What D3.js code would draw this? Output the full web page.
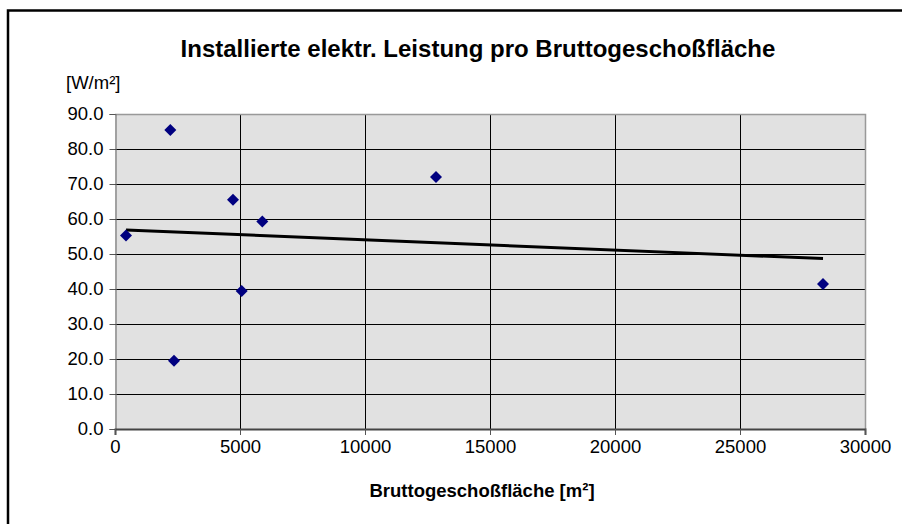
<!DOCTYPE html>
<html>
<head>
<meta charset="utf-8">
<script src="https://cdn.jsdelivr.net/npm/d3@7"></script>
<style>
  body { margin: 0; background: #fff; }
  svg { display: block; font-family: "Liberation Sans", Arial, sans-serif; }
</style>
</head>
<body>
<div id="chart"></div>
<script>
// Data
const flaeche = [440, 2213, 2360, 4720, 5067, 5893, 12840, 28320];      // m²
const leistung = [55.3, 85.4, 19.5, 65.5, 39.4, 59.3, 72.0, 41.4];     // W/m²
const xTicks = [0, 5000, 10000, 15000, 20000, 25000, 30000];
const yTicks = [0, 10, 20, 30, 40, 50, 60, 70, 80, 90];

const width = 902, height = 524;
const plot = { left: 115, right: 865, top: 114, bottom: 429 };

const svg = d3.select("#chart").append("svg")
    .attr("width", width)
    .attr("height", height);

// outer frame (runs off the right and bottom edge)
svg.append("rect")
    .attr("x", 8).attr("y", 10.5)
    .attr("width", 1000).attr("height", 1000)
    .attr("fill", "none")
    .attr("stroke", "#000")
    .attr("stroke-width", 2.5);

const x = d3.scaleLinear().domain([0, 30000]).range([plot.left, plot.right]);
const y = d3.scaleLinear().domain([0, 90]).range([plot.bottom, plot.top]);

// plot area
svg.append("rect")
    .attr("x", plot.left).attr("y", plot.top)
    .attr("width", plot.right - plot.left)
    .attr("height", plot.bottom - plot.top)
    .attr("fill", "#e1e1e1");

// grid
const grid = svg.append("g").attr("stroke", "#000").attr("stroke-width", 1);
grid.selectAll("line.h")
    .data(yTicks.filter(d => d > 0 && d < 90))
    .join("line")
    .attr("x1", plot.left).attr("x2", plot.right)
    .attr("y1", d => Math.round(y(d)) + 0.5)
    .attr("y2", d => Math.round(y(d)) + 0.5);
grid.selectAll("line.v")
    .data(xTicks.filter(d => d > 0 && d < 30000))
    .join("line")
    .attr("y1", plot.top).attr("y2", plot.bottom)
    .attr("x1", d => Math.round(x(d)) + 0.5)
    .attr("x2", d => Math.round(x(d)) + 0.5);

// plot border top/right
svg.append("path")
    .attr("d", `M${plot.left},${plot.top + 0.5}H${plot.right + 0.5}V${plot.bottom}`)
    .attr("fill", "none")
    .attr("stroke", "#999")
    .attr("stroke-width", 1.5);

// axes
const yAxis = svg.append("g")
    .attr("transform", `translate(${plot.left + 0.5},0)`)
    .call(d3.axisLeft(y).tickValues(yTicks).tickSize(6).tickPadding(6)
        .tickFormat(d3.format(".1f")));
const xAxis = svg.append("g")
    .attr("transform", `translate(0,${plot.bottom})`)
    .call(d3.axisBottom(x).tickValues(xTicks).tickSize(6).tickPadding(5)
        .tickFormat(d => d));

[yAxis, xAxis].forEach(a => {
    a.selectAll("text")
        .attr("fill", "#000")
        .style("font-size", "18.5px")
        .style("font-family", "Liberation Sans, Arial, sans-serif");
    a.selectAll("line").attr("stroke", "#555");
});
yAxis.select(".domain").attr("stroke", "#777").attr("stroke-width", 1.2);
xAxis.select(".domain").attr("stroke", "#444").attr("stroke-width", 2);

// trend line (least squares)
const mx = d3.mean(flaeche), my = d3.mean(leistung);
const slope = d3.sum(flaeche, (v, i) => (v - mx) * (leistung[i] - my)) /
              d3.sum(flaeche, v => (v - mx) * (v - mx));
const icpt = my - slope * mx;
const [x0, x1] = d3.extent(flaeche);
svg.append("line")
    .attr("x1", x(x0)).attr("y1", y(icpt + slope * x0))
    .attr("x2", x(x1)).attr("y2", y(icpt + slope * x1))
    .attr("stroke", "#000")
    .attr("stroke-width", 3);

// markers
const diamond = d3.symbol(d3.symbolSquare, 72);
svg.append("g").selectAll("path")
    .data(flaeche.map((v, i) => [v, leistung[i]]))
    .join("path")
    .attr("d", diamond)
    .attr("transform", d => `translate(${x(d[0])},${y(d[1])}) rotate(45)`)
    .attr("fill", "#000080");

// texts
svg.append("text")
    .attr("x", 478).attr("y", 57)
    .attr("text-anchor", "middle")
    .style("font-size", "24px")
    .style("font-weight", "bold")
    .text("Installierte elektr. Leistung pro Bruttogeschoßfläche");

svg.append("text")
    .attr("x", 66).attr("y", 89)
    .style("font-size", "18.5px")
    .text("[W/m²]");

svg.append("text")
    .attr("x", 482).attr("y", 497)
    .attr("text-anchor", "middle")
    .style("font-size", "18.5px")
    .style("font-weight", "bold")
    .text("Bruttogeschoßfläche [m²]");
</script>
</body>
</html>
